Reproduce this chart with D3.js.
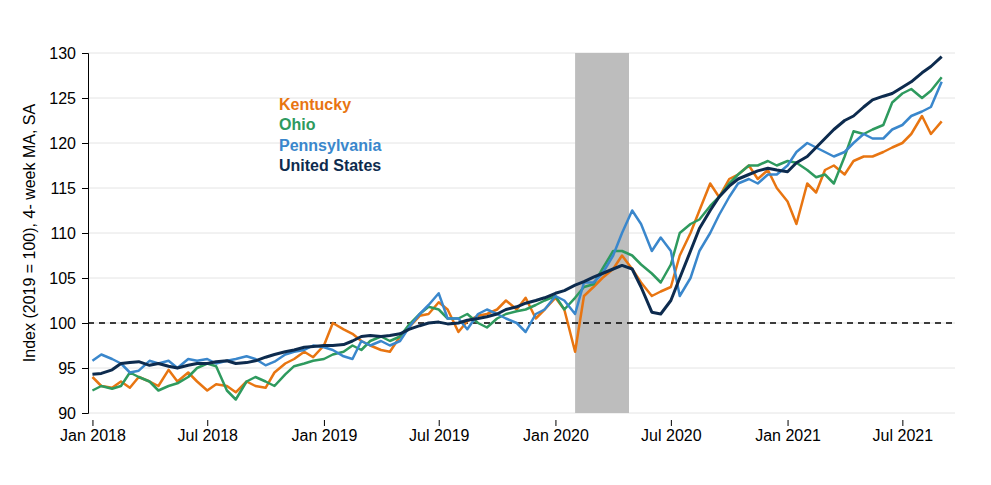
<!DOCTYPE html>
<html><head><meta charset="utf-8">
<script src="https://cdn.jsdelivr.net/npm/d3@7"></script>
<style>body{margin:0;background:#fff;font-family:"Liberation Sans",Arial,sans-serif}</style>
</head><body>
<script>
// semi-monthly readings, Jan 1 2018 .. Sep 1 2021
const unitedStates = [94.3,94.4,94.8,95.5,95.6,95.7,95.3,95.5,95.2,95.0,95.3,95.5,95.5,95.7,95.8,95.5,95.6,95.8,96.2,96.5,96.8,97.0,97.3,97.4,
  97.5,97.5,97.6,98.0,98.5,98.6,98.5,98.6,98.8,99.3,99.7,100.0,100.1,99.9,100.0,100.3,100.5,100.7,101.0,101.5,101.8,102.2,102.5,102.8,
  103.3,103.6,104.2,104.6,105.1,105.5,106.0,106.4,106.0,104.0,101.2,101.0,102.5,105.0,108.0,110.5,112.5,114.0,115.2,116.0,116.5,116.9,117.2,117.0,
  116.8,117.8,118.5,119.5,120.5,121.5,122.5,123.0,124.0,124.8,125.2,125.5,126.2,126.8,127.8,128.5,129.6];
const kentucky = [94.0,93.0,92.8,93.5,92.8,94.0,93.5,93.0,94.8,93.5,94.5,93.5,92.5,93.2,93.0,92.3,93.5,93.0,92.8,94.5,95.5,96.0,96.8,96.2,
  97.5,100.0,99.3,98.8,98.0,97.5,97.0,96.8,98.5,99.5,100.8,101.0,102.3,101.5,99.0,100.2,100.8,101.0,101.5,102.5,101.5,102.8,100.5,101.5,
  102.8,101.5,96.8,103.0,104.0,105.0,106.0,107.5,106.0,104.5,103.0,103.5,104.0,107.5,110.0,112.5,115.5,114.0,116.0,116.5,117.5,116.0,117.0,115.0,
  113.5,111.0,115.5,114.5,117.0,117.5,116.5,118.0,118.5,118.5,119.0,119.5,120.0,121.0,123.0,121.0,122.4];
const ohio = [92.5,93.0,92.7,93.0,94.5,94.0,93.5,92.5,93.0,93.3,94.0,95.0,95.5,95.2,92.5,91.5,93.5,94.0,93.5,93.0,94.3,95.2,95.5,95.8,
  96.0,96.5,96.8,97.5,97.0,98.0,98.5,98.0,98.5,99.8,101.0,101.8,101.5,100.5,100.5,101.0,100.0,99.5,100.5,101.0,101.3,101.5,102.0,102.5,
  103.0,101.5,102.8,104.0,104.3,106.0,108.0,108.0,107.5,106.5,105.5,104.5,106.5,110.0,111.0,111.5,113.0,114.0,115.5,116.5,117.5,117.5,118.0,117.5,
  118.0,117.8,117.0,116.2,116.5,115.5,118.5,121.3,121.0,121.5,122.0,124.5,125.5,126.0,125.0,125.8,127.3];
const pennsylvania = [95.8,96.5,96.0,95.5,94.5,94.7,95.8,95.5,95.8,95.0,96.0,95.8,96.0,95.5,95.8,96.0,96.3,96.0,95.3,95.7,96.5,96.8,97.0,97.5,
  97.3,97.0,96.3,96.0,98.0,97.5,98.0,97.5,98.0,99.5,101.0,102.0,103.3,100.5,100.5,99.3,101.0,101.5,101.0,100.5,100.0,99.0,101.0,101.5,
  103.0,102.5,101.0,104.5,104.5,105.5,107.5,110.0,112.5,111.0,108.0,109.5,108.0,103.0,105.0,108.0,110.0,112.0,114.0,115.5,116.0,115.5,116.5,116.5,
  117.5,119.0,120.0,119.5,119.0,118.5,119.0,120.0,121.0,120.5,120.5,121.5,122.0,123.0,123.5,124.0,126.8];
const seriesNames = ["Kentucky","Ohio","Pennsylvania","United States"];
const seriesColors = ["#e87511","#2e9a5e","#3a87cc","#0d2b4e"];
const yTicks = [90,95,100,105,110,115,120,125,130];
const xTickLabels = ["Jan 2018","Jul 2018","Jan 2019","Jul 2019","Jan 2020","Jul 2020","Jan 2021","Jul 2021"];
const recession = [new Date(2020,1,1), new Date(2020,3,26)];

const dates = kentucky.map((_, i) => new Date(2018, Math.floor(i / 2), i % 2 ? 15 : 1));
const allSeries = [kentucky, ohio, pennsylvania, unitedStates];

const W = 991, H = 485, m = {l: 88, r: 36, t: 53, b: 72};
const svg = d3.select("body").append("svg").attr("width", W).attr("height", H);

const x = d3.scaleTime().domain([new Date(2017,11,25), new Date(2021,8,22)]).range([m.l, W - m.r]);
const y = d3.scaleLinear().domain([90,130]).range([H - m.b, m.t]);

svg.append("g").selectAll("line").data(yTicks).join("line")
  .attr("x1", m.l).attr("x2", W - m.r).attr("y1", y).attr("y2", y)
  .attr("stroke", "#e4e4e4");

svg.append("rect")
  .attr("x", x(recession[0])).attr("width", x(recession[1]) - x(recession[0]))
  .attr("y", m.t).attr("height", y(90) - m.t).attr("fill", "#bdbdbd");

svg.append("line").attr("x1", m.l).attr("x2", W - m.r).attr("y1", y(100)).attr("y2", y(100))
  .attr("stroke", "#000").attr("stroke-width", 1.5).attr("stroke-dasharray", "6,5");

const line = d3.line().x((d, i) => x(dates[i])).y(d => y(d));
// draw in order so US sits on top
allSeries.forEach((s, k) => {
  svg.append("path").datum(s).attr("fill", "none")
    .attr("stroke", seriesColors[k]).attr("stroke-width", k == 3 ? 3 : 2.5)
    .attr("stroke-linejoin", "round").attr("d", line);
});

const yAxis = svg.append("g").attr("transform", `translate(${m.l},0)`)
  .call(d3.axisLeft(y).tickValues(yTicks).tickSize(6).tickPadding(6));
yAxis.selectAll("text").attr("font-size", 16).attr("fill", "#000").attr("font-family", "Liberation Sans");
yAxis.select(".domain").attr("stroke", "#000");

const xTickDates = xTickLabels.map((_, i) => new Date(2018, i * 6, 1));
const xAxis = svg.append("g").attr("transform", `translate(0,${H - m.b + 7})`)
  .call(d3.axisBottom(x).tickValues(xTickDates).tickFormat((d, i) => xTickLabels[i]).tickSize(6).tickPadding(4));
xAxis.select(".domain").remove();
xAxis.selectAll("text").attr("font-size", 16).attr("fill", "#000").attr("font-family", "Liberation Sans");

svg.append("text").attr("transform", `translate(35,${(m.t + H - m.b) / 2}) rotate(-90)`)
  .attr("text-anchor", "middle").attr("font-size", 16)
  .text("Index (2019 = 100), 4- week MA, SA");

svg.append("g").selectAll("text").data(seriesNames).join("text")
  .attr("x", 279).attr("y", (d, i) => 110 + i * 20.3)
  .attr("fill", (d, i) => seriesColors[i]).attr("font-weight", "bold").attr("font-size", 16)
  .text(d => d);
</script>
</body></html>
